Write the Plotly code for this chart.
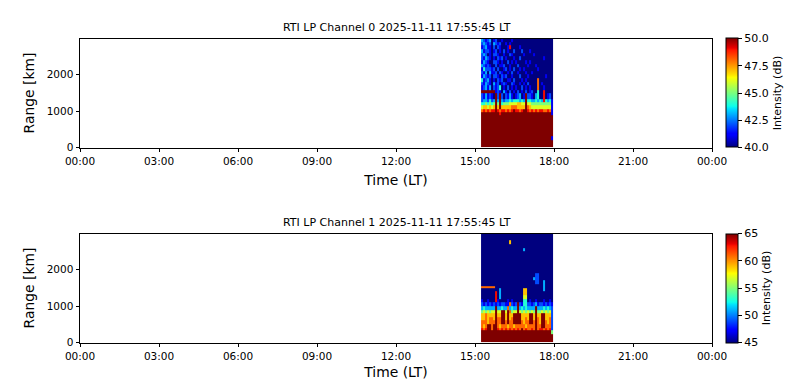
import plotly.graph_objects as go

TITLES = ["RTI LP Channel 0 2025-11-11 17:55:45 LT", "RTI LP Channel 1 2025-11-11 17:55:45 LT"]
TICK_HOURS = [0, 3, 6, 9, 12, 15, 18, 21, 24]
TICK_LABELS = ["00:00", "03:00", "06:00", "09:00", "12:00", "15:00", "18:00", "21:00", "00:00"]
RANGE_TICKS = [0, 1000, 2000]
TIME_START = 15.23
TIME_END = 17.96
RANGE_TOP = 2990
CH0_LIMITS = [40, 50]
CH1_LIMITS = [45, 65]
CH0_TICKS = [40, 42.5, 45, 47.5, 50]
CH1_TICKS = [45, 50, 55, 60, 65]

# Range-bin edges in km, bottom to top.
CH0_EDGES = [0, 100, 200, 300, 400, 500, 600, 700, 800, 900, 970, 1060, 1150, 1240, 1330, 1490, 1560, 1700,
             1800, 1900, 2000, 2100, 2200, 2300, 2400, 2500, 2600, 2700, 2800, 2900, 3000]
CH1_EDGES = [0, 110, 220, 330, 400, 500, 600, 700, 800, 900, 1000, 1100, 1200, 1300, 1400, 1490, 1540, 1600,
             1700, 1800, 1900, 2000, 2100, 2200, 2300, 2400, 2500, 2600, 2700, 2800, 2900, 3000]

# Colour level per cell (0-a = low to saturated), top range row first.
CH0_ROWS = [
    "321230 120010 000100 000000 000000 000000",
    "232120 321200 101000 000000 000000 000000",
    "123110 202100 019000 010000 000000 000000",
    "312210 120102 010020 002000 100000 000000",
    "232010 221001 002100 000100 001000 000000",
    "213210 102120 100010 020000 000000 010000",
    "132100 221010 020101 000010 100000 000000",
    "321210 020112 001000 200001 000100 000000",
    "142221 202001 201020 010100 000010 000000",
    "213031 120210 010200 100010 010000 000000",
    "132120 221021 200100 020001 000000 001000",
    "412310 102120 011020 001010 000080 000000",
    "213210 312012 100210 010102 000080 100000",
    "123130 212401 020101 002010 100080 010000",
    "aaaaaa a12103 102010 201020 120040 090000",
    "213121 0a2a20 213101 2301a2 210340 090120",
    "233242 3a3a32 334344 4343a4 433434 394341",
    "445454 5a5a45 556666 7766a6 655555 555551",
    "677676 7a7a77 777888 7777a8 766666 666661",
    "898989 9a9899 8989a9 989aa9 898989 988981",
    "aaaaaa aaa9aa aaaaaa aaaaaa aaaaaa aaaaa1",
    "aaaaaa aaaaaa aaaaaa aaaaaa aaaaaa aaaaaa",
    "aaaaaa aaaaaa aaaaaa aaaaaa aaaaaa aaaaaa",
    "aaaaaa aaaaaa aaaaaa aaaaaa aaaaaa aaaaaa",
    "aaaaaa aaaaaa aaaaaa aaaaaa aaaaaa aaaaaa",
    "aaaaaa aaaaaa aaaaaa aaaaaa aaaaaa aaaaaa",
    "aaaaaa aaaaaa aaaaaa aaaaaa aaaaaa aaaaaa",
    "aaaaaa aaaaaa aaaaaa aaaaaa aaaaaa aaaaa1",
    "aaaaaa aaaaaa aaaaaa aaaaaa aaaaaa aaaaaa",
    "aaaaaa aaaaaa aaaaaa aaaaaa aaaaaa aaaaaa",
]
CH1_ROWS = [
    "000000 000000 000000 000000 000000 000000",
    "000000 000000 000000 000000 000000 000000",
    "000000 000000 007000 000000 000000 000000",
    "000000 000000 000000 000000 000000 000000",
    "000000 000000 000000 000300 000000 000000",
    "000000 000000 000000 000000 000000 000000",
    "000000 000000 000000 000000 000000 000000",
    "000000 000000 000000 000000 000000 000000",
    "000000 000000 000000 000000 000000 000000",
    "000000 000000 000000 000000 000000 000000",
    "000000 000000 000000 000000 000000 000000",
    "000000 000000 000000 000000 000220 000000",
    "000000 000000 000000 000000 003220 000000",
    "000000 000000 000000 000000 000220 030000",
    "000000 000000 000000 000000 000000 030000",
    "888888 800000 000000 000000 000000 030000",
    "000000 000300 000000 000770 000000 030000",
    "000000 090300 000000 000770 000000 000000",
    "000000 090300 000000 000660 000000 000000",
    "100100 091000 010100 000440 100100 010010",
    "212121 212122 118212 a21442 212312 212121",
    "343333 3a3343 383433 a34343 333a33 343432",
    "565656 6a66aa 6a8566 a65656 565a55 656562",
    "778777 7a77aa 7a77aa aa7777 aa7a77 aa7772",
    "778788 7a88aa 7a78aa aa7787 aa7a87 aa7782",
    "888788 8a88aa 8a88aa aa8788 aa8a87 aa8782",
    "878aa8 aa8788 878878 888878 888a88 aa8882",
    "989aa8 aa9898 989898 98a898 898a89 989892",
    "aaaaaa aaaaaa aaaaaa aaaaaa aaaaaa aaaaa5",
    "aaaaaa aaaaaa aaaaaa aaaaaa aaaaaa aaaaaa",
    "aaaaaa aaaaaa aaaaaa aaaaaa aaaaaa aaaaaa",
]

JET = [[0, "#00007f"], [0.11, "#0000ff"], [0.125, "#0000ff"], [0.35, "#00e0ff"], [0.375, "#0dffeb"],
       [0.5, "#7dff7a"], [0.64, "#ffff00"], [0.66, "#ffe600"], [0.89, "#ff1600"], [0.91, "#e80000"], [1, "#7f0000"]]
FONT = "DejaVu Sans"


def to_db(rows, limits):
    out = []
    for row in reversed(rows):
        cells = row.replace(" ", "")
        out.append([limits[0] + int(c, 16) / 10 * (limits[1] - limits[0]) for c in cells])
    return out


fig = go.Figure()
W, H = 800, 380
panels = [
    (CH0_ROWS, CH0_EDGES, CH0_LIMITS, CH0_TICKS, 38.5, 147.5, "", ".1f"),
    (CH1_ROWS, CH1_EDGES, CH1_LIMITS, CH1_TICKS, 233.5, 342.5, "2", "d"),
]
for i, (rows, edges, lim, cticks, top, bot, sfx, fmt) in enumerate(panels):
    z = to_db(rows, lim)
    nc = len(z[0])
    dx = (TIME_END - TIME_START) / nc
    fig.add_trace(go.Heatmap(
        z=z,
        x=[TIME_START + (k + 0.5) * dx for k in range(nc)],
        y=edges,
        zmin=lim[0], zmax=lim[1], colorscale=JET, xaxis="x" + sfx, yaxis="y" + sfx, hoverinfo="skip",
        colorbar=dict(
            x=726 / W, xanchor="left", xref="paper", thickness=12, thicknessmode="pixels",
            len=(bot - top) / H, lenmode="fraction", y=1 - (top + bot) / 2 / H, yanchor="middle",
            ypad=0, xpad=0,
            outlinewidth=1, outlinecolor="black", tickvals=cticks, tickformat=fmt,
            ticks="outside", ticklen=4, tickwidth=1, tickcolor="black",
            tickfont=dict(size=11, color="black", family=FONT),
            title=dict(text="Intensity (dB)", side="right", font=dict(size=11, color="black", family=FONT)),
        ),
    ))
    ax = dict(mirror=True, showline=True, linecolor="black", linewidth=1, showgrid=False, zeroline=False,
              automargin=False, ticks="outside", ticklen=3.5, tickwidth=1, tickcolor="black",
              tickfont=dict(size=10.5, color="black", family=FONT))
    fig.update_layout({
        "xaxis" + sfx: dict(ax, domain=[80 / W, 712 / W], range=[0, 24], tickvals=TICK_HOURS, ticktext=TICK_LABELS,
                            anchor="y" + sfx,
                            title=dict(text="Time (LT)", standoff=9, font=dict(size=13.9, color="black", family=FONT))),
        "yaxis" + sfx: dict(ax, domain=[1 - bot / H, 1 - top / H], range=[0, RANGE_TOP], tickvals=RANGE_TICKS,
                            anchor="x" + sfx,
                            title=dict(text="Range [km]", standoff=8, font=dict(size=13.9, color="black", family=FONT))),
    })
    fig.add_annotation(text=TITLES[i], xref="paper", yref="paper", x=396.5 / W, y=1 - (top - 3) / H, xanchor="center",
                       yanchor="bottom", showarrow=False, font=dict(size=11, color="black", family=FONT))

fig.update_layout(width=W, height=H, margin=dict(l=0, r=0, t=0, b=0, pad=0, autoexpand=False),
                  paper_bgcolor="white", plot_bgcolor="white", font=dict(family=FONT, color="black"))
fig.write_html("out.html", config={"displayModeBar": False},
               post_script="document.body.style.margin='0';document.documentElement.style.overflow='hidden';")
